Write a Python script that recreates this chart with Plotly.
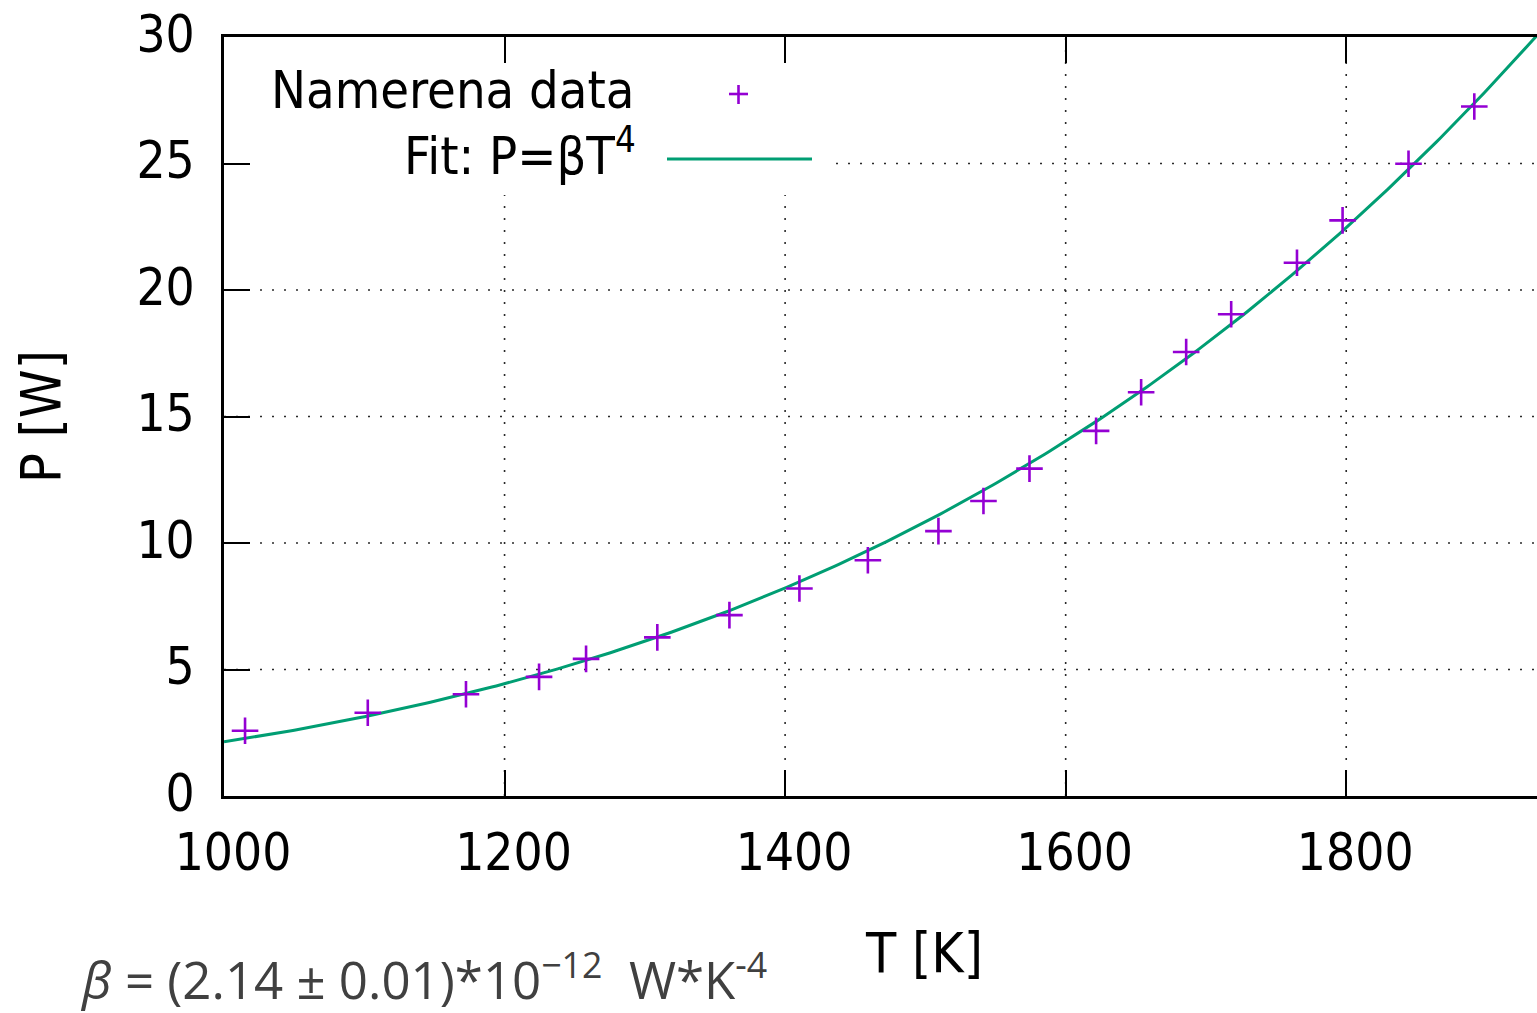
import numpy as np
import plotly.graph_objects as go

# ---- data ----
T_meas = [1015.0, 1102.5, 1172.5, 1224.6, 1258.1, 1308.9, 1360.3, 1410.2, 1459.0, 1509.3,
          1541.4, 1574.2, 1621.7, 1653.8, 1685.9, 1718.0, 1764.9, 1797.4, 1844.4, 1891.3]
P_meas = [2.58, 3.29, 4.02, 4.71, 5.42, 6.27, 7.15, 8.20, 9.32, 10.47,
          11.66, 12.94, 14.43, 15.96, 17.55, 19.04, 21.08, 22.75, 24.99, 27.25]
BETA = 2.14e-12  # W*K^-4, fit parameter shown in the chart
x_ticks = [1000, 1200, 1400, 1600, 1800]
y_ticks = [0, 5, 10, 15, 20, 25, 30]
X_RANGE = [1000, 1936]
Y_RANGE = [0, 30]

# fit curve P = beta*T^4
T_fit = np.linspace(X_RANGE[0], X_RANGE[1], 300)
P_fit = BETA * T_fit ** 4

W, H = 1537, 1013
L, R, T, B = 224, 1537, 37, 796  # plot area in pixels


def px(x):
    return (x - L) / (R - L)


def py(y):
    return (B - y) / (B - T)


def data_x(pix):
    return X_RANGE[0] + (pix - L) / (R - L) * (X_RANGE[1] - X_RANGE[0])


def data_y(pix):
    return Y_RANGE[0] + (B - pix) / (B - T) * (Y_RANGE[1] - Y_RANGE[0])


PURPLE = "#9400d3"
GREEN = "#009e73"
FONT = "DejaVu Sans Condensed, DejaVu Sans, sans-serif"

fig = go.Figure()
fig.add_trace(go.Scatter(x=T_fit, y=P_fit, mode="lines",
                         line=dict(color=GREEN, width=3), showlegend=False))
fig.add_trace(go.Scatter(x=T_meas, y=P_meas, mode="markers",
                         marker=dict(symbol="cross-thin", size=19,
                                     line=dict(color=PURPLE, width=2.6)),
                         showlegend=False))

axis_common = dict(
    showline=True, linewidth=3, linecolor="black",
    ticks="inside", ticklen=26, tickwidth=2, tickcolor="black",
    showgrid=False, zeroline=False,
    tickfont=dict(family=FONT, size=51, color="black"),
)

fig.update_layout(
    width=W, height=H,
    margin=dict(l=L, r=W - R, t=T, b=H - B, pad=0),
    paper_bgcolor="white", plot_bgcolor="white",
    xaxis=dict(range=X_RANGE, tickvals=x_ticks, mirror="ticks",
               ticklabelshift=9, ticklabelstandoff=10, **axis_common),
    yaxis=dict(range=Y_RANGE, tickvals=y_ticks, mirror=False,
               ticklabelshift=-3, ticklabelstandoff=16, **axis_common),
    showlegend=False,
)

# key box extent (grid is hidden behind the key)
KEY_RIGHT = data_x(836)
KEY_BOTTOM = data_y(195)
GRID = dict(color="#2a2a2a", width=1.6, dash="2px,10px")

shapes = []
for yv in y_ticks[1:-1]:
    x0 = KEY_RIGHT if yv > KEY_BOTTOM else X_RANGE[0]
    shapes.append(dict(type="line", xref="x", yref="y", x0=x0, x1=X_RANGE[1],
                       y0=yv, y1=yv, line=GRID, layer="below"))
for xv in x_ticks[1:]:
    y1 = KEY_BOTTOM if xv < KEY_RIGHT else Y_RANGE[1]
    shapes.append(dict(type="line", xref="x", yref="y", x0=xv, x1=xv,
                       y0=Y_RANGE[0], y1=y1, line=GRID, layer="below"))
# key sample: "+" marker
shapes.append(dict(type="line", xref="paper", yref="paper",
                   x0=px(729), x1=px(748), y0=py(94), y1=py(94),
                   line=dict(color=PURPLE, width=2.6), layer="above"))
shapes.append(dict(type="line", xref="paper", yref="paper",
                   x0=px(738.5), x1=px(738.5), y0=py(85), y1=py(104),
                   line=dict(color=PURPLE, width=2.6), layer="above"))
# key sample: fit line
shapes.append(dict(type="line", xref="paper", yref="paper",
                   x0=px(667), x1=px(812), y0=py(159), y1=py(159),
                   line=dict(color=GREEN, width=3), layer="above"))
fig.update_layout(shapes=shapes)

annotations = [
    dict(text="Namerena data", x=px(636), y=py(90), xanchor="right", yanchor="middle",
         font=dict(family=FONT, size=52, color="black")),
    dict(text="Fit: P=βT<sup>4</sup>", x=px(638), y=py(152), xanchor="right", yanchor="middle",
         font=dict(family=FONT, size=52, color="black")),
    dict(text="T [K]", x=px(924), y=py(953), xanchor="center", yanchor="middle",
         font=dict(family=FONT, size=55, color="black")),
    dict(text="P [W]", x=px(41), y=py(417), xanchor="center", yanchor="middle",
         textangle=-90, font=dict(family=FONT, size=55, color="black")),
    dict(text="<i>β</i> = (2.14 ± 0.01)*10<sup>−12</sup>  W*K<sup>-4</sup>",
         x=px(78), y=py(977), xanchor="left", yanchor="middle",
         font=dict(family="Open Sans, sans-serif", size=51, color="#404040")),
]
for a in annotations:
    a.update(xref="paper", yref="paper", showarrow=False)
fig.update_layout(annotations=annotations)

fig.write_html("out.html", config={"displayModeBar": False},
               post_script="document.body.style.margin='0';")
